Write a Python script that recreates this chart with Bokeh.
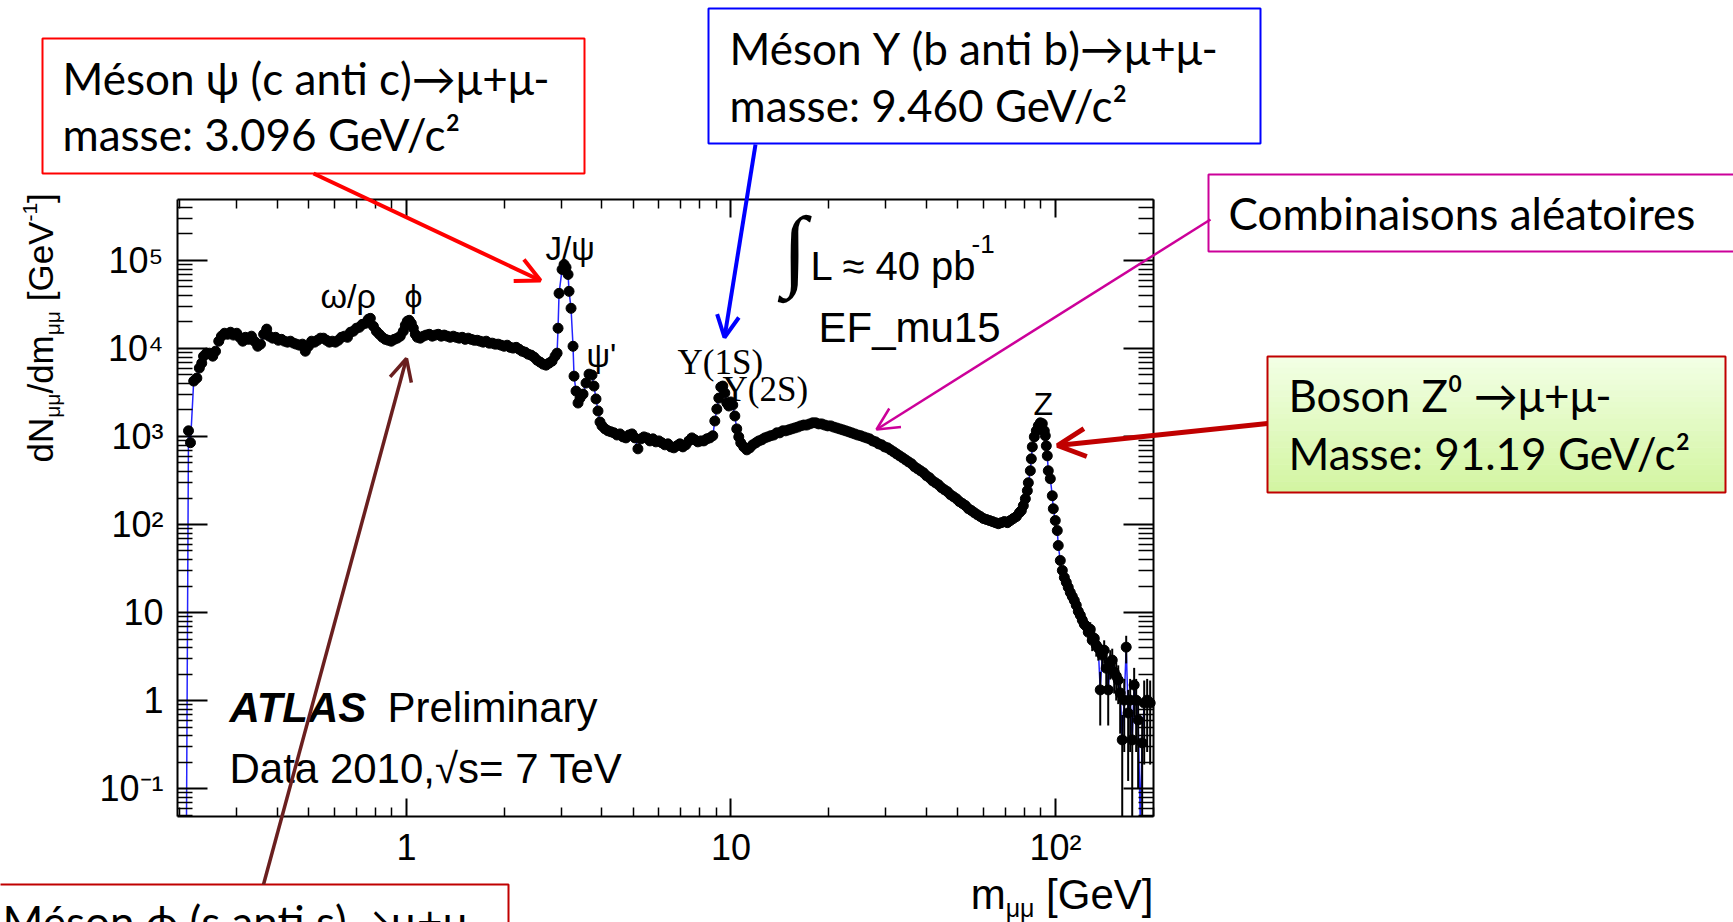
import math
from bokeh.plotting import figure
from bokeh.models import (Range1d, LinearScale, LogAxis, FixedTicker, Label, Arrow,
                          OpenHead, BoxAnnotation)
from bokeh.embed import file_html
from bokeh.resources import INLINE

# Opposite-sign dimuon mass spectrum, EF_mu15 trigger, 2010 data (dN/dm per GeV)
mass = [
    0.210, 0.213, 0.216, 0.221, 0.226, 0.230, 0.234, 0.237, 0.242, 0.247,
    0.253, 0.258, 0.264, 0.269, 0.275, 0.281, 0.287, 0.293, 0.300, 0.306,
    0.313, 0.319, 0.326, 0.333, 0.340, 0.348, 0.355, 0.363, 0.371, 0.378,
    0.387, 0.395, 0.403, 0.412, 0.421, 0.430, 0.439, 0.449, 0.458, 0.468,
    0.478, 0.488, 0.499, 0.510, 0.521, 0.532, 0.543, 0.555, 0.567, 0.579,
    0.591, 0.604, 0.617, 0.630, 0.644, 0.658, 0.672, 0.686, 0.701, 0.716,
    0.731, 0.747, 0.763, 0.774, 0.791, 0.808, 0.825, 0.843, 0.861, 0.879,
    0.898, 0.917, 0.937, 0.957, 0.978, 0.992, 1.006, 1.020, 1.035, 1.050,
    1.065, 1.080, 1.103, 1.127, 1.151, 1.176, 1.201, 1.227, 1.253, 1.280,
    1.307, 1.336, 1.364, 1.394, 1.423, 1.454, 1.485, 1.517, 1.550, 1.583,
    1.617, 1.652, 1.687, 1.724, 1.761, 1.798, 1.837, 1.876, 1.917, 1.958,
    2.000, 2.043, 2.087, 2.132, 2.178, 2.224, 2.272, 2.321, 2.371, 2.422,
    2.474, 2.527, 2.581, 2.637, 2.693, 2.751, 2.810, 2.871, 2.912, 2.932,
    2.953, 3.017, 3.060, 3.103, 3.148, 3.170, 3.215, 3.261, 3.284, 3.331,
    3.379, 3.427, 3.501, 3.576, 3.653, 3.731, 3.784, 3.838, 3.893, 3.949,
    4.005, 4.091, 4.179, 4.268, 4.360, 4.454, 4.549, 4.647, 4.747, 4.849,
    4.953, 5.059, 5.168, 5.279, 5.393, 5.508, 5.627, 5.748, 5.871, 5.997,
    6.126, 6.257, 6.392, 6.529, 6.669, 6.813, 6.959, 7.108, 7.262, 7.417,
    7.577, 7.739, 7.906, 8.076, 8.249, 8.426, 8.607, 8.792, 8.918, 9.045,
    9.174, 9.305, 9.438, 9.573, 9.709, 9.848, 9.988, 10.13, 10.28, 10.42,
    10.57, 10.72, 10.95, 11.19, 11.43, 11.67, 11.93, 12.18, 12.44, 12.71,
    12.98, 13.26, 13.55, 13.84, 14.13, 14.44, 14.75, 15.07, 15.39, 15.72,
    16.06, 16.40, 16.76, 17.12, 17.48, 17.86, 18.24, 18.63, 19.03, 19.44,
    19.86, 20.29, 20.72, 21.17, 21.62, 22.09, 22.56, 23.05, 23.54, 24.05,
    24.56, 25.09, 25.63, 26.18, 26.74, 27.32, 27.90, 28.50, 29.12, 29.74,
    30.38, 31.03, 31.70, 32.38, 33.08, 33.79, 34.51, 35.25, 36.01, 36.78,
    37.57, 38.38, 39.21, 40.05, 40.91, 41.79, 42.68, 43.60, 44.54, 45.49,
    46.47, 47.47, 48.49, 49.53, 50.59, 51.68, 52.79, 53.93, 55.08, 56.27,
    57.48, 58.71, 59.97, 61.26, 62.57, 63.92, 65.29, 66.69, 68.13, 69.59,
    71.08, 72.62, 74.17, 75.77, 77.39, 78.50, 79.62, 80.76, 81.91, 82.49,
    83.67, 84.26, 84.86, 86.07, 87.30, 88.55, 89.81, 91.09, 92.39, 93.05,
    93.71, 94.37, 95.04, 96.41, 97.78, 98.48, 99.88, 101.3, 102.0, 103.5,
    105.0,
]
rate = [
    0.0, 1160, 850, 4260, 4610, 5990, 6820, 8180, 8850, 8850,
    8180, 9310, 12100, 13800, 14900, 14500, 15300, 14200, 14900, 13400,
    12100, 13400, 12700, 13800, 12100, 10600, 11200, 14500, 16600, 13800,
    13100, 13400, 12400, 12700, 12100, 11800, 12100, 11500, 11200, 10900,
    11200, 9310, 10600, 12100, 11800, 12400, 13100, 13100, 12400, 11800,
    12100, 11800, 12400, 13400, 13800, 13400, 15300, 15700, 17000, 17400,
    18800, 19300, 21500, 22000, 17900, 15700, 14500, 13400, 12700, 12400,
    12100, 12700, 13100, 13800, 15700, 18400, 20400, 20900, 19300, 17000,
    14500, 13400, 13100, 13800, 14200, 14500, 13800, 14200, 14500, 13800,
    14200, 13800, 13400, 13800, 13400, 13100, 13400, 12700, 13100, 12700,
    12400, 12400, 12100, 11800, 12100, 11500, 11500, 11200, 11200, 10900,
    10600, 10900, 10300, 10100, 10300, 9820, 9310, 9080, 8620, 8400,
    7970, 7360, 7000, 6640, 6470, 6820, 7180, 8180, 8850, 17000,
    42300, 79100, 90100, 83400, 69400, 44600, 28600, 10600, 4850, 3280,
    2400, 2730, 3030, 4050, 5110, 4990, 3740, 2670, 1950, 1460,
    1320, 1220, 1160, 1130, 1100, 1040, 1070, 990, 964, 1040,
    1070, 964, 724, 940, 990, 964, 891, 940, 869, 891,
    847, 804, 825, 762, 743, 783, 825, 762, 804, 891,
    964, 916, 869, 891, 891, 940, 964, 1020, 1500, 2050,
    2730, 3650, 3740, 3120, 2400, 2220, 2470, 2280, 1710, 1220,
    990, 847, 762, 705, 743, 804, 847, 891, 916, 964,
    990, 1020, 1040, 1100, 1100, 1160, 1160, 1190, 1220, 1250,
    1280, 1320, 1350, 1350, 1390, 1430, 1430, 1390, 1390, 1350,
    1320, 1320, 1280, 1250, 1220, 1190, 1160, 1130, 1100, 1070,
    1040, 1020, 990, 964, 940, 891, 869, 825, 804, 762,
    743, 705, 670, 635, 603, 573, 543, 515, 490, 453,
    430, 408, 387, 358, 340, 314, 298, 283, 262, 248,
    236, 218, 207, 196, 182, 173, 164, 151, 144, 136,
    129, 123, 117, 114, 111, 108, 105, 102, 105, 108,
    105, 111, 117, 123, 136, 144, 164, 196, 242, 298,
    408, 557, 762, 990, 1160, 1320, 1430, 1400, 1160, 1020,
    783, 603, 408, 331, 212, 151, 111, 85.3, 57.7, 39.0,
    30.1,
]

# High-mass tail, drawn with its statistical error bars
tail_mass = [
    106.5, 108.0, 109.5, 111.1, 112.7, 114.3, 115.9, 117.6, 119.3, 121.0,
    122.7, 124.4, 126.2, 128.0, 129.8, 131.7, 133.6, 135.5, 137.4, 139.4,
    141.3, 143.4, 145.4, 147.5, 149.6, 151.7, 153.9, 156.1, 158.3, 160.6,
    162.9, 165.2, 167.5, 169.9, 172.4, 174.8, 177.3, 179.8, 182.4, 185.0,
    187.7, 191.7, 195.8,
]
tail_rate = [
    25.0, 22.0, 19.3, 16.9, 15.2, 13.7, 12.1, 10.3, 9.3, 8.2,
    7.35, 6.98, 5.97, 6.46, 4.84, 5.10, 4.25, 3.94, 1.32, 3.28,
    3.73, 2.33, 1.32, 2.73, 2.88, 2.10, 1.90, 1.71, 1.22, 0.357,
    1.01, 4.04, 0.722, 1.01, 0.357, 1.50, 1.01, 0.601, 0.0, 0.330,
    0.937, 1.01, 0.937,
]
tail_err = [
    2.0, 2.0, 2.0, 1.8, 1.8, 1.7, 1.6, 1.5, 1.5, 1.4,
    1.4, 1.3, 1.3, 1.3, 1.2, 1.2, 1.1, 1.1, 0.8, 1.0,
    1.1, 0.9, 0.8, 1.0, 1.0, 0.9, 0.9, 0.8, 0.8, 0.33,
    0.75, 1.4, 0.6, 0.75, 0.33, 0.85, 0.75, 0.5, 0.0, 0.3,
    0.75, 0.75, 0.75,
]

y_ticks = [0.1, 1, 10, 100, 1000, 10000, 100000]
y_tick_labels = ["10⁻¹", "1", "10", "10²", "10³", "10⁴", "10⁵"]
x_ticks = [1, 10, 100]
x_tick_labels = ["1", "10", "10²"]

# canvas and the pixel box the histogram frame occupies
W, H = 1733, 922
FL, FR, FT, FB = 177, 1153, 199, 816
X_LO, X_HI = 0.197, 200.5
Y_LO, Y_HI = 0.0481, 4.93e5

# the plotting frame spans the whole canvas so the slide callouts are not clipped;
# extend the log ranges so the histogram axes land on the box above
DX = (FR - FL) / (math.log10(X_HI) - math.log10(X_LO))
DY = (FB - FT) / (math.log10(Y_HI) - math.log10(Y_LO))
x_full = (10 ** (math.log10(X_LO) - FL / DX), 10 ** (math.log10(X_HI) + (W - FR) / DX))
y_full = (10 ** (math.log10(Y_LO) - (H - FB) / DY), 10 ** (math.log10(Y_HI) + FT / DY))

p = figure(width=W, height=H, title=None,
           x_axis_type="log", y_axis_type="log",
           x_axis_location=None, y_axis_location=None,
           x_range=Range1d(*x_full), y_range=Range1d(*y_full),
           output_backend="svg", toolbar_location=None,
           min_border=0)
p.background_fill_color = "white"
p.border_fill_color = "white"
p.outline_line_color = None
p.xgrid.visible = False
p.ygrid.visible = False

# linear pixel-space coordinates (origin top-left) for the callouts
p.extra_x_ranges = {"px": Range1d(0, W)}
p.extra_y_ranges = {"px": Range1d(H, 0)}
p.extra_x_scales = {"px": LinearScale()}
p.extra_y_scales = {"px": LinearScale()}

def minor_between(lo, hi):
    out = []
    for e in range(-3, 7):
        for m in range(2, 10):
            v = m * 10.0 ** e
            if lo < v < hi:
                out.append(v)
    return out

def make_axis(ticks, labels, minor, bounds, where, tick_in, minor_in, show_labels, standoff):
    ax = LogAxis(fixed_location=where, bounds=bounds)
    ax.ticker = FixedTicker(ticks=ticks, minor_ticks=minor)
    ax.major_label_overrides = {t: (l if show_labels else "") for t, l in zip(ticks, labels)}
    ax.axis_line_color = "black"
    ax.axis_line_width = 2
    ax.major_tick_in = tick_in
    ax.major_tick_out = 0
    ax.minor_tick_in = minor_in
    ax.minor_tick_out = 0
    ax.major_tick_line_color = "black"
    ax.minor_tick_line_color = "black"
    ax.major_tick_line_width = 2
    ax.minor_tick_line_width = 1.5
    ax.major_label_text_font = "Liberation Sans"
    ax.major_label_text_font_size = "36px"
    ax.major_label_text_color = "black"
    ax.major_label_standoff = standoff
    return ax

x_minor = minor_between(X_LO, X_HI)
y_minor = minor_between(Y_LO, Y_HI)
p.add_layout(make_axis(x_ticks, x_tick_labels, x_minor, (X_LO, X_HI), Y_LO, 18, 9, True, 10), "below")
p.add_layout(make_axis(x_ticks, x_tick_labels, x_minor, (X_LO, X_HI), Y_HI, 18, 9, False, 10), "above")
p.add_layout(make_axis(y_ticks, y_tick_labels, y_minor, (Y_LO, Y_HI), X_LO, 30, 15, True, 14), "left")
p.add_layout(make_axis(y_ticks, y_tick_labels, y_minor, (Y_LO, Y_HI), X_HI, 30, 15, False, 14), "right")

# data: empty bins and error bars that run off scale end on the axis floor
all_mass = mass + tail_mass
all_rate = rate + tail_rate
line_rate = [max(r, Y_LO) for r in all_rate]
p.line(all_mass, line_rate, line_color="#2424ff", line_width=1.5)
err_lo = [max(r - e, Y_LO) for r, e in zip(tail_rate, tail_err)]
err_hi = [r + e for r, e in zip(tail_rate, tail_err)]
p.segment(tail_mass, err_lo, tail_mass, err_hi, line_color="black", line_width=2)
shown = [(m, r) for m, r in zip(all_mass, all_rate) if r >= Y_LO]
p.scatter([m for m, _ in shown], [r for _, r in shown], size=10,
          fill_color="black", line_color="black")

# Label places its anchor about 0.35 em above the drawn alphabetic baseline;
# positions below are the wanted baselines, so shift the anchor accordingly
BASE_SHIFT = 0.35

def label(x, y, text, size, font="Liberation Sans", style="normal", color="black",
          align="left", baseline="alphabetic", angle=0.0):
    if baseline == "alphabetic":
        if angle:
            x = x - BASE_SHIFT * size
        else:
            y = y - BASE_SHIFT * size
    p.add_layout(Label(x=x, y=y, x_range_name="px", y_range_name="px", text=text,
                       text_font=font, text_font_size=f"{size}px", text_font_style=style,
                       text_color=color, text_align=align, text_baseline=baseline,
                       angle=angle))

def box(left, top, right, bottom, line_color, fill="white", fill_alpha=1.0):
    p.add_layout(BoxAnnotation(left=left, right=right, top=top, bottom=bottom,
                               x_range_name="px", y_range_name="px",
                               fill_color=fill, fill_alpha=fill_alpha,
                               line_color=line_color, line_alpha=1.0, line_width=2))

def arrow(x0, y0, x1, y1, color, width, head):
    p.add_layout(Arrow(x_start=x0, y_start=y0, x_end=x1, y_end=y1,
                       x_range_name="px", y_range_name="px",
                       line_color=color, line_width=width,
                       end=OpenHead(size=head, line_color=color, line_width=width)))

# Liberation Sans advance widths (1/1000 em) for composing axis titles
ADV = {"d": 556, "N": 722, "m": 833, "/": 278, " ": 278, "[": 278, "]": 278,
       "G": 778, "e": 556, "V": 667, "μ": 576, "-": 333, "1": 556}

def run_width(s, size):
    return sum(ADV.get(c, 556) for c in s) * size / 1000.0

# axis titles with sub/superscripts: (text, size, baseline offset, gap before)
TF, SF = 35, 21
y_pieces = [("dN", TF, 0, 0), ("μμ", SF, 7, 0), ("/dm", TF, 0, 0), ("μμ", SF, 7, 0),
            ("[GeV", TF, 0, run_width(" ", TF)), ("-1", SF, -15, 0), ("]", TF, 0, 0)]
cur = 462
for txt, sz, off, gap in y_pieces:
    cur -= gap
    label(52 + off, cur, txt, sz, angle=math.pi / 2)
    cur -= run_width(txt, sz)

XF, XSF = 42, 25
x_pieces = [("m", XF, 0, 0), ("μμ", XSF, 7, 0), ("[GeV]", XF, 0, run_width(" ", XF))]
cur = FR - sum(run_width(t, s) + g for t, s, _, g in x_pieces)
for txt, sz, off, gap in x_pieces:
    cur += gap
    label(cur, 909 + off, txt, sz)
    cur += run_width(txt, sz)

# resonance labels inside the frame
label(320, 307, "ω/ρ", 34)
label(404, 307, "ϕ", 32)
label(545, 260, "J/ψ", 33)
label(586, 367, "ψ'", 33)
label(677, 374, "Υ(1S)", 35, font="Liberation Serif")
label(722, 401, "Υ(2S)", 35, font="Liberation Serif")
label(1033, 415, "Z", 32)

label(794, 248, "∫", 90, font="Liberation Serif", align="center", baseline="middle")
label(810, 279, "L ≈ 40 pb", 40)
label(971, 253, "-1", 26)
label(818, 342, "EF_mu15", 42)
label(229, 722, "ATLAS", 42, style="bold italic")
label(387, 722, "Preliminary", 42)
label(229, 783, "Data 2010,√s= 7 TeV", 42)

# callout boxes
BF, BS = "Lato", 44
box(42, 38, 584, 173, "#ff0000")
label(62, 93, "Méson ψ (c anti c)→μ+μ-", BS, font=BF)
label(62, 149, "masse: 3.096 GeV/c²", BS, font=BF)

box(708, 8, 1260, 143, "#0000ff")
label(729, 63, "Méson Υ (b anti b)→μ+μ-", BS, font=BF)
label(729, 120, "masse: 9.460 GeV/c²", BS, font=BF)

box(1208, 174, 1740, 251, "#cc0099")
label(1228, 228, "Combinaisons aléatoires", BS, font=BF)

# light green vertical gradient for the Z0 box
g_top, g_bot = (0xF2, 0xFF, 0xE4), (0xD3, 0xF5, 0xA2)
zl, zt, zr, zb = 1267, 356, 1725, 492
n_strips = 24
for i in range(n_strips):
    f = i / (n_strips - 1)
    col = "#%02x%02x%02x" % tuple(round(a + (b - a) * f) for a, b in zip(g_top, g_bot))
    y0 = zt + (zb - zt) * i / n_strips
    y1 = zt + (zb - zt) * (i + 1) / n_strips + 0.5
    p.add_layout(BoxAnnotation(left=zl, right=zr, top=y0, bottom=y1,
                               x_range_name="px", y_range_name="px",
                               fill_color=col, fill_alpha=1.0, line_alpha=0))
box(zl, zt, zr, zb, "#c00000", fill_alpha=0.0)
label(1288, 410, "Boson Z⁰ →μ+μ-", BS, font=BF)
label(1288, 468, "Masse: 91.19 GeV/c²", BS, font=BF)

box(-10, 884, 508, 975, "#c00000")
label(2, 936, "Méson ϕ (s anti s)→μ+μ-", BS, font=BF)

# pointers
arrow(313, 173, 540, 280, "#ff0000", 4, 24)
arrow(755, 144, 724, 337, "#0000ff", 4, 22)
arrow(1210, 219, 876, 429, "#cc0099", 2.5, 22)
arrow(1267, 423, 1057, 445, "#c00000", 5, 28)
arrow(263, 884, 406, 358, "#6a1f1f", 3.5, 22)

open("out.html", "w").write(file_html(p, INLINE))
